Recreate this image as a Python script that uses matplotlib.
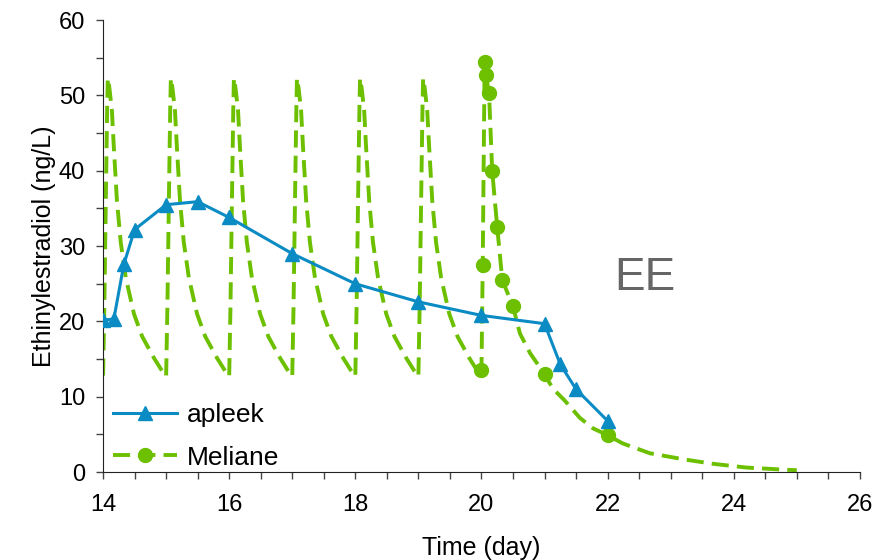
import matplotlib
matplotlib.use("Agg")
import matplotlib.pyplot as plt
from matplotlib.ticker import MultipleLocator

plt.rcParams['font.family'] = ['Liberation Sans', 'DejaVu Sans']

# apleek (measured)
apleek_t = [14.0, 14.17, 14.33, 14.5, 15.0, 15.5, 16.0, 17.0, 18.0, 19.0, 20.0, 21.0, 21.25, 21.5, 22.0]
apleek_c = [20.2, 20.3, 27.6, 32.2, 35.5, 35.9, 33.8, 29.0, 25.0, 22.6, 20.8, 19.7, 14.3, 11.0, 6.8]

# Meliane: one daily dosing cycle (offset in days, ng/L)
cycle_offset = [0.0, 0.02, 0.045, 0.065, 0.075, 0.10, 0.14, 0.17, 0.22, 0.28, 0.36, 0.49, 0.62, 0.81, 0.99]
cycle_conc = [12.8, 22.0, 37.0, 48.5, 52.3, 51.0, 48.0, 43.2, 36.0, 30.5, 25.8, 21.0, 18.0, 15.1, 12.7]
dose_days = [14, 15, 16, 17, 18, 19]

# last day: sampled points (with markers) and the washout tail
last_t = [20.0, 20.02, 20.05, 20.07, 20.12, 20.17, 20.25, 20.33, 20.5, 20.61, 20.77, 21.0,
          21.13, 21.32, 21.56, 21.77, 22.0, 22.24, 22.67, 23.2, 23.67, 24.2, 24.84, 25.0]
last_c = [13.5, 27.5, 54.5, 52.7, 50.3, 40.0, 32.5, 25.5, 22.0, 18.4, 15.8, 13.0,
          11.1, 9.5, 7.2, 5.8, 4.9, 3.8, 2.5, 1.7, 1.1, 0.6, 0.3, 0.25]
last_marked = [20.0, 20.02, 20.05, 20.07, 20.12, 20.17, 20.25, 20.33, 20.5, 21.0, 22.0]

mel_t = []
mel_c = []
for d in dose_days:
    for o, c in zip(cycle_offset, cycle_conc):
        mel_t.append(d + o)
        mel_c.append(c)
marker_idx = []
for t, c in zip(last_t, last_c):
    if t in last_marked:
        marker_idx.append(len(mel_t))
    mel_t.append(t)
    mel_c.append(c)

blue = '#0A8BC4'
green = '#6CC000'

fig = plt.figure(figsize=(8.81, 5.6), dpi=100)
ax = fig.add_axes([0.117, 0.157, 0.859, 0.807])

ax.plot(mel_t, mel_c, color=green, lw=2.8, ls=(0, (4.4, 2.1)), marker='o', ms=10,
        markevery=marker_idx, label='Meliane', zorder=2)
ax.plot(apleek_t, apleek_c, color=blue, lw=2.2, marker='^', ms=10, label='apleek', zorder=3)

ax.set_xlim(14, 26)
ax.set_ylim(0, 60)
ax.xaxis.set_major_locator(MultipleLocator(2))
ax.xaxis.set_minor_locator(MultipleLocator(0.5))
ax.yaxis.set_major_locator(MultipleLocator(10))
ax.yaxis.set_minor_locator(MultipleLocator(5))
ax.tick_params(which='both', direction='out', length=5, width=1, color='#444444', labelsize=17)
ax.tick_params(axis='x', pad=11)
ax.tick_params(axis='y', pad=8)
for s in ['top', 'right']:
    ax.spines[s].set_visible(False)
for s in ['left', 'bottom']:
    ax.spines[s].set_color('#222222')

ax.set_xlabel('Time (day)', fontsize=18, labelpad=14)
ax.set_ylabel('Ethinylestradiol (ng/L)', fontsize=18, labelpad=2)

ax.text(22.59, 25.8, 'EE', fontsize=33, color='#666666', ha='center', va='center')

h, l = ax.get_legend_handles_labels()
ax.legend(h[::-1], l[::-1], loc='lower left', bbox_to_anchor=(-0.018, -0.047), frameon=False,
          fontsize=19, handlelength=2.4, handletextpad=0.4, labelspacing=0.7)

fig.savefig('out.png', dpi=100)
